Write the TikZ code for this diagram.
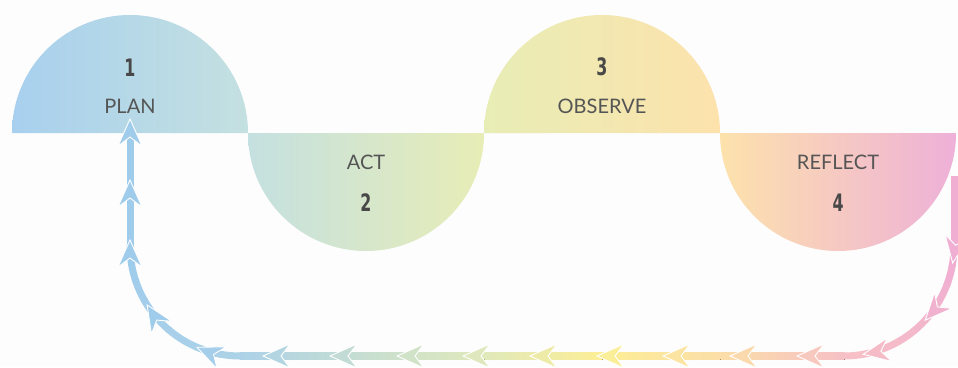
\documentclass[tikz,border=0pt]{standalone}
\usepackage{fontspec}
\usetikzlibrary{calc}
\setmainfont{Lato}
\newfontfamily\numfont{DejaVu Sans}[FakeStretch=0.66]
\definecolor{bg}{RGB}{253,253,253}
\definecolor{s0}{RGB}{168,208,238}
\definecolor{s1}{RGB}{196,224,224}
\definecolor{s2}{RGB}{232,237,182}
\definecolor{s3}{RGB}{255,242,140}
\definecolor{s4}{RGB}{253,226,172}
\definecolor{s5}{RGB}{248,203,195}
\definecolor{s6}{RGB}{238,176,216}
\definecolor{a0}{RGB}{160,204,236}
\definecolor{a1}{RGB}{172,210,232}
\definecolor{a2}{RGB}{224,233,186}
\definecolor{a3}{RGB}{252,238,150}
\definecolor{a4}{RGB}{251,222,168}
\definecolor{a5}{RGB}{246,192,198}
\definecolor{a6}{RGB}{240,174,210}
\definecolor{txt}{RGB}{85,85,85}
\definecolor{numc}{RGB}{72,72,72}
\newcommand{\chevmark}[4]{%
  \begin{scope}[shift={(#1,#2)}, rotate=#3]
    \filldraw[fill=#4, draw=white, line width=0.9pt, line join=miter]
      (0,0) .. controls (-14,5.5) .. (-27,12) -- (-18,0) -- (-27,-12) .. controls (-14,-5.5) .. (0,0) -- cycle;
  \end{scope}}
\tikzset{
  lbl/.style={text=txt, font=\fontsize{20}{20}\selectfont, inner sep=0pt},
  num/.style={text=numc, font=\numfont\bfseries\fontsize{24}{24}\selectfont, inner sep=0pt},
  disk/.style={draw=none},
  ret/.style={line width=7pt},
}
\begin{document}
\begin{tikzpicture}[x=1pt,y=-1pt]
\useasboundingbox (0,0) rectangle (958,367);
\fill[bg] (0,0) rectangle (958,367);
% half discs
\path[disk, left color=s0, right color=s1]
  (12,133) arc[start angle=180,end angle=360,radius=118] -- cycle;
\path[disk, left color=s1, right color=s2]
  (248,133) arc[start angle=180,end angle=0,radius=118] -- cycle;
\path[disk, left color=s2, middle color=s3, right color=s4]
  (484,133) arc[start angle=180,end angle=360,radius=118] -- cycle;
\path[disk, left color=s4, middle color=s5, right color=s6]
  (720,133) arc[start angle=180,end angle=0,radius=118] -- cycle;
% texts
\node[num] (n1) at (130,68) {1};
\node[lbl] (plan) at (130,106) {PLAN};
\node[lbl] (act) at (366,162) {ACT};
\node[num] (n2) at (366,203) {2};
\node[num] (n3) at (602,67) {3};
\node[lbl] (observe) at (602,106) {OBSERVE};
\node[lbl] (reflect) at (838,162) {REFLECT};
\node[num] (n4) at (838,203) {4};
% return arrow
\coordinate (rs) at (954,176);
\coordinate (rc) at (844,246);
\coordinate (lc) at (240,246);
\coordinate (le) at (130,128);
\draw[ret, a6] (rs) -- (954,246.5);
\foreach \i in {0,...,8}{
  \pgfmathsetmacro{\p}{\i*100/8}
  \draw[ret, a5!\p!a6] ($(rc)+(\i*10:110)$) arc[start angle=\i*10, end angle=\i*10+10.6, radius=110];
}
\fill[left color=a4, right color=a5] (720,352.5) rectangle (844.5,359.5);
\fill[left color=a3, right color=a4] (602,352.5) rectangle (720.5,359.5);
\fill[left color=a2, right color=a3] (484,352.5) rectangle (602.5,359.5);
\fill[left color=a1, right color=a2] (239.5,352.5) rectangle (484.5,359.5);
\foreach \i in {0,...,8}{
  \pgfmathsetmacro{\p}{\i*100/8}
  \draw[ret, a0!\p!a1] ($(lc)+(90+\i*10:110)$) arc[start angle=90+\i*10, end angle=90+\i*10+10.6, radius=110];
}
\draw[ret, a0] (130,246.5) -- (le);
% chevrons
\chevmark{952.7}{263}{-99}{a6}
\chevmark{925.2}{320.2}{-132.4}{a6!80!a5}
\chevmark{863.1}{354.3}{-170}{a5!80!a6}
\chevmark{797}{356}{180}{a5!72!a4}
\chevmark{730}{356}{180}{a5!18!a4}
\chevmark{663}{356}{180}{a4!62!a3}
\chevmark{597}{356}{180}{a3!95!a2}
\chevmark{530}{356}{180}{a3!49!a2}
\chevmark{463}{356}{180}{a2!96!a1}
\chevmark{397}{356}{180}{a2!69!a1}
\chevmark{330}{356}{180}{a2!42!a1}
\chevmark{263}{356}{180}{a2!14!a1}
\chevmark{197}{347.3}{157}{a1!40!a0}
\chevmark{147.1}{304.9}{122.4}{a0}
\chevmark{130}{240}{90}{a0}
\chevmark{130}{180}{90}{a0}
\chevmark{130}{119}{90}{a0}
\end{tikzpicture}
\end{document}
